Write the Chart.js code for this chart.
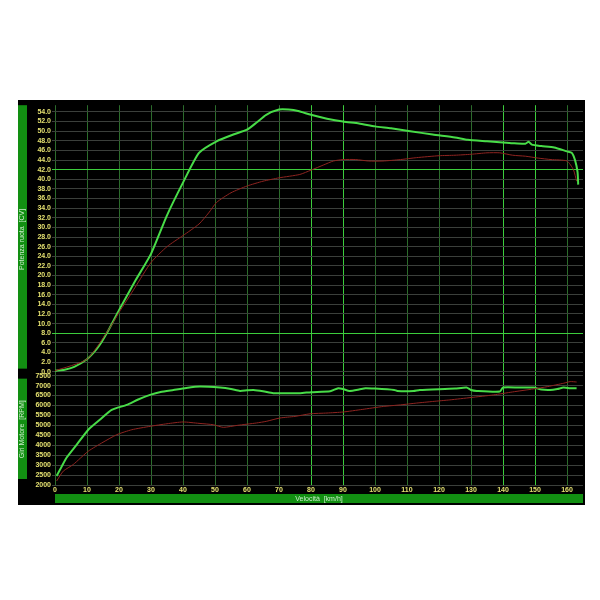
<!DOCTYPE html>
<html>
<head>
<meta charset="utf-8">
<script src="https://cdn.jsdelivr.net/npm/chart.js@4.4.1/dist/chart.umd.min.js"></script>
<style>
    html, body { margin: 0; padding: 0; background: #fff; }
    #wrap { position: absolute; left: 18px; top: 100px; width: 567px; height: 405px; background: #000; }
</style>
</head>
<body>
<div id="wrap"><canvas id="dynoChart"></canvas></div>
<script>
// Potenza ruota [CV] vs velocità, run verde
var speedPowerGreen = [0, 3, 6, 10, 12, 14, 17, 20, 25, 30, 35, 40, 45, 50.5, 55.7, 60, 63, 66, 70, 73, 76, 80, 85, 90, 95, 100, 105, 111, 118, 125, 129, 135, 139, 143, 147, 148, 149, 152, 156, 160, 161.5, 162.5, 163.3, 163.5];
var powerGreen = [0.2, 0.4, 1.0, 2.6, 3.9, 5.6, 9.0, 12.8, 18.8, 24.5, 32.5, 39.3, 45.5, 47.9, 49.3, 50.3, 51.8, 53.4, 54.5, 54.5, 54.2, 53.4, 52.6, 52.0, 51.6, 51.0, 50.6, 50.0, 49.3, 48.7, 48.2, 47.9, 47.7, 47.5, 47.4, 47.8, 47.2, 46.9, 46.6, 45.8, 45.5, 44.0, 41.5, 38.9];

// Potenza ruota [CV], run rossa
var speedPowerRed = [0, 10, 17, 20, 25, 30, 35, 40, 45, 48, 50.5, 55, 60, 65, 70, 76.5, 80, 84, 87, 90, 94, 98, 102.5, 108, 113, 120, 125, 130, 135, 139, 143, 147, 151, 155, 160, 162, 163];
var powerRed = [0.2, 2.6, 9.0, 12.3, 17.5, 22.7, 26.0, 28.3, 30.7, 33.0, 35.2, 37.2, 38.6, 39.6, 40.3, 41.0, 41.9, 43.0, 43.8, 44.1, 44.1, 43.8, 43.8, 44.1, 44.5, 44.9, 45.0, 45.2, 45.5, 45.5, 45.0, 44.8, 44.4, 44.1, 43.8, 42.0, 39.6];

// Giri motore [RPM], run verde
var speedRpmGreen = [0.5, 2, 3.6, 6.8, 10.4, 14, 17.7, 22.4, 26, 29.7, 33, 37, 41, 45.3, 51.6, 55, 57.8, 60, 62, 65, 68.2, 72, 76.6, 80, 86, 88.5, 90, 92, 95, 97, 100, 106, 107, 112, 114, 125, 128.6, 130, 131.8, 139, 140, 145, 149.5, 152, 154.7, 157, 158.9, 161, 163];
var rpmGreen = [2450, 2900, 3370, 4030, 4780, 5280, 5780, 6030, 6300, 6530, 6680, 6780, 6880, 6950, 6900, 6830, 6730, 6760, 6780, 6720, 6620, 6620, 6620, 6670, 6720, 6870, 6830, 6730, 6800, 6870, 6850, 6780, 6730, 6730, 6780, 6850, 6900, 6780, 6730, 6700, 6900, 6900, 6900, 6800, 6780, 6830, 6900, 6870, 6870];

// Giri motore [RPM], run rossa
var speedRpmRed = [0.5, 2.6, 5.7, 10.4, 15, 19.3, 24, 29.7, 35, 40, 45, 49.5, 52.6, 57, 63, 66, 70.3, 75, 79.7, 85, 90, 96, 102.6, 108, 113, 118, 123.4, 130, 137, 143, 149.5, 154, 159, 161, 163];
var rpmRed = [2200, 2700, 3030, 3700, 4150, 4530, 4780, 4950, 5080, 5170, 5100, 5030, 4900, 5000, 5120, 5200, 5370, 5450, 5580, 5620, 5670, 5800, 5950, 6030, 6120, 6200, 6280, 6400, 6530, 6680, 6830, 6950, 7120, 7200, 7180];

// Tick labels
var speedTicks = [0, 10, 20, 30, 40, 50, 60, 70, 80, 90, 100, 110, 120, 130, 140, 150, 160];
var powerTicks = [0, 2, 4, 6, 8, 10, 12, 14, 16, 18, 20, 22, 24, 26, 28, 30, 32, 34, 36, 38, 40, 42, 44, 46, 48, 50, 52, 54];
var rpmTicks = [2000, 2500, 3000, 3500, 4000, 4500, 5000, 5500, 6000, 6500, 7000, 7500];

var brightPower = [8, 42];
var brightSpeed = [80, 90, 140, 150];

var TICK_COLOR = '#e4e070';
var BAR_GREEN = '#128f12';
var TITLE_COLOR = '#cdeecd';
var H_GRID = '#3b3f3b';
var V_GRID = '#2c6c2c';

function toPoints(xs, ys) {
    return xs.map(function(x, i) { return { x: x, y: ys[i] }; });
}

function fixedTicks(list) {
    return function(scale) {
        scale.ticks = list.map(function(v) { return { value: v }; });
    };
}

// green panels behind the axis titles
var panelBars = {
    id: 'panelBars',
    beforeDraw: function(chart) {
        var ctx = chart.ctx;
        var yP = chart.scales.yP, yR = chart.scales.yR, x = chart.scales.x;
        ctx.save();
        ctx.fillStyle = '#000';
        ctx.fillRect(0, 0, chart.width, chart.height);
        ctx.fillStyle = BAR_GREEN;
        ctx.fillRect(0, yP.top, 9, yP.bottom - yP.top - 5);
        ctx.fillRect(0, yR.top + 5, 9, yR.bottom - yR.top - 11);
        ctx.fillRect(x.left, x.bottom - 11, chart.width - x.left - 2, 9);
        ctx.restore();
    }
};

var ctx = document.getElementById('dynoChart').getContext('2d');
var dynoChart = new Chart(ctx, {
    type: 'line',
    data: {
        datasets: [
            {
                label: 'Potenza rossa',
                data: toPoints(speedPowerRed, powerRed),
                yAxisID: 'yP',
                borderColor: '#8e2420',
                borderWidth: 1,
                pointRadius: 0,
                tension: 0.2
            },
            {
                label: 'Potenza',
                data: toPoints(speedPowerGreen, powerGreen),
                yAxisID: 'yP',
                borderColor: '#48dc48',
                borderWidth: 2,
                pointRadius: 0,
                tension: 0.2
            },
            {
                label: 'Giri rossa',
                data: toPoints(speedRpmRed, rpmRed),
                yAxisID: 'yR',
                borderColor: '#8e2420',
                borderWidth: 1,
                pointRadius: 0,
                tension: 0.2
            },
            {
                label: 'Giri',
                data: toPoints(speedRpmGreen, rpmGreen),
                yAxisID: 'yR',
                borderColor: '#48dc48',
                borderWidth: 2,
                pointRadius: 0,
                tension: 0.2
            }
        ]
    },
    options: {
        responsive: true,
        maintainAspectRatio: false,
        animation: false,
        layout: { padding: { top: 3, right: 2, left: 0, bottom: 0 } },
        plugins: {
            legend: { display: false },
            tooltip: { enabled: false }
        },
        scales: {
            x: {
                type: 'linear',
                min: 0,
                max: 165,
                afterBuildTicks: fixedTicks(speedTicks),
                afterFit: function(scale) { scale.height = 20; },
                grid: {
                    drawTicks: false,
                    lineWidth: 1,
                    color: function(c) {
                        return brightSpeed.indexOf(c.tick.value) !== -1 ? '#3ccc3c' : V_GRID;
                    }
                },
                border: { display: false },
                ticks: {
                    color: TICK_COLOR,
                    padding: 1,
                    maxRotation: 0,
                    autoSkip: false,
                    font: { family: 'Liberation Sans', size: 7, weight: 'bold' }
                },
                title: {
                    display: true,
                    text: 'Velocità  [km/h]',
                    color: TITLE_COLOR,
                    padding: { top: 0, bottom: 2 },
                    font: { family: 'Liberation Sans', size: 7 }
                }
            },
            yP: {
                type: 'linear',
                position: 'left',
                stack: 'panels',
                stackWeight: 270,
                weight: 2,
                min: -0.4,
                max: 55.4,
                afterBuildTicks: fixedTicks(powerTicks),
                afterFit: function(scale) { scale.width = 37; },
                grid: {
                    tickLength: 3,
                    color: function(c) {
                        return brightPower.indexOf(c.tick.value) !== -1 ? '#3ccc3c' : H_GRID;
                    }
                },
                border: { display: false },
                ticks: {
                    color: TICK_COLOR,
                    padding: 1,
                    autoSkip: false,
                    font: { family: 'Liberation Sans', size: 7, weight: 'bold' },
                    callback: function(v) { return v.toFixed(1); }
                },
                title: {
                    display: true,
                    text: 'Potenza ruota  [CV]',
                    color: TITLE_COLOR,
                    padding: { top: 0, bottom: 0 },
                    font: { family: 'Liberation Sans', size: 7 }
                }
            },
            yR: {
                type: 'linear',
                position: 'left',
                stack: 'panels',
                stackWeight: 112,
                weight: 1,
                min: 2000,
                max: 7600,
                afterBuildTicks: fixedTicks(rpmTicks),
                afterFit: function(scale) { scale.width = 37; },
                grid: {
                    tickLength: 3,
                    color: H_GRID
                },
                border: { display: false },
                ticks: {
                    color: TICK_COLOR,
                    padding: 1,
                    autoSkip: false,
                    font: { family: 'Liberation Sans', size: 7, weight: 'bold' },
                    callback: function(v) { return String(v); }
                },
                title: {
                    display: true,
                    text: 'Giri Motore  [RPM]',
                    color: TITLE_COLOR,
                    padding: { top: 0, bottom: 0 },
                    font: { family: 'Liberation Sans', size: 7 }
                }
            }
        }
    },
    plugins: [panelBars]
});
</script>
</body>
</html>
